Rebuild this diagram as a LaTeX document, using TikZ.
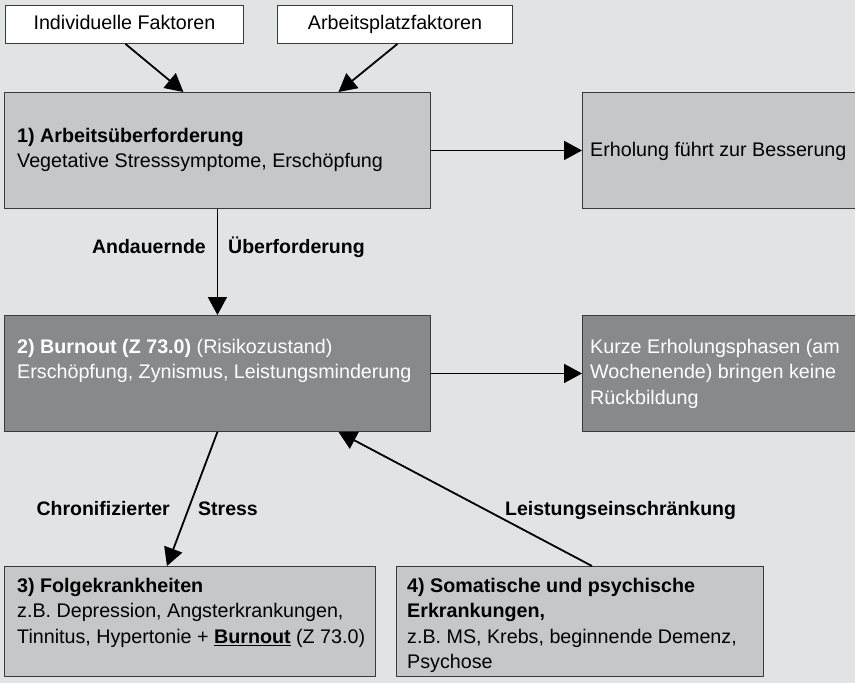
\documentclass[tikz,border=0pt]{standalone}
\usepackage{fontspec}
\setmainfont{Liberation Sans}
\usetikzlibrary{arrows.meta}
\definecolor{bg}{HTML}{E2E3E5}
\definecolor{lightbox}{HTML}{C6C7C9}
\definecolor{darkbox}{HTML}{88898B}
\definecolor{edge}{HTML}{3A3A3A}
% fixed first-line height so the node top sits a known distance above the baseline
\newcommand\topline{\rule{0pt}{16pt}}
\begin{document}
\begin{tikzpicture}[x=1pt,y=-1pt,
  box/.style={draw=edge, line width=0.9pt, rectangle, inner sep=0pt, anchor=north west},
  inbox/.style={box, fill=white, minimum height=38pt, text height=14pt, text depth=4pt,
    font=\fontsize{19.7}{22}\selectfont},
  txt/.style={anchor=north west, align=left, inner sep=0pt,
    font=\fontsize{19.7}{25.5}\selectfont},
  conn/.style={line width=1.8pt, -{Triangle[length=18pt,width=19pt]}},
  lbl/.style={inner sep=0pt, font=\bfseries\fontsize{19.5}{22}\selectfont}]
\fill[bg] (0,0) rectangle (855,683);
\useasboundingbox (0,0) rectangle (855,683);

% input factors
\node[inbox, minimum width=238pt] (ind) at (5,5) {Individuelle Faktoren};
\node[inbox, minimum width=235pt] (arb) at (277,5) {Arbeitsplatzfaktoren};

% stage boxes
\node[box, fill=lightbox, minimum width=426pt, minimum height=116pt] (b1) at (4,92) {};
\node[box, fill=lightbox, minimum width=280pt, minimum height=116pt] (r1) at (582,92) {};
\node[box, fill=darkbox, minimum width=426pt, minimum height=116pt] (b2) at (4,315) {};
\node[box, fill=darkbox, minimum width=280pt, minimum height=116pt] (r2) at (582,315) {};
\node[box, fill=lightbox, minimum width=371pt, minimum height=110pt] (b3) at (4,566) {};
\node[box, fill=lightbox, minimum width=367pt, minimum height=110pt] (b4) at (396,566) {};

% box texts
\node[txt] (t1) at (17,126) {\topline\textbf{1) Arbeitsüberforderung}\\Vegetative Stresssymptome, Erschöpfung};
\node[txt] (tr1) at (590,140) {\topline Erholung führt zur Besserung};
\node[txt, text=white] (t2) at (17,337) {\topline\textbf{2) Burnout (Z 73.0)} (Risikozustand)\\Erschöpfung, Zynismus, Leistungsminderung};
\node[txt, text=white] (tr2) at (590,337) {\topline Kurze Erholungsphasen (am\\Wochenende) bringen keine\\Rückbildung};
\node[txt] (t3) at (17,576) {\topline\textbf{3) Folgekrankheiten}\\z.B. Depression, Angsterkrankungen,\\Tinnitus, Hypertonie + \textbf{\underline{Burnout}} (Z 73.0)};
\node[txt] (t4) at (407,576) {\topline\textbf{4) Somatische und psychische}\\\textbf{Erkrankungen,}\\z.B. MS, Krebs, beginnende Demenz,\\Psychose};

% connectors
\draw[conn] ([xshift=1pt]ind.south) -- ([xshift=-34pt]b1.north);
\draw[conn] ([xshift=2.5pt]arb.south) -- ([xshift=121pt]b1.north);
\draw[conn] (b1.east) -- (b1.east -| r1.west);
\draw[conn] (b1.south) -- (b2.north);
\draw[conn] (b2.east) -- (b2.east -| r2.west);
\draw[conn] (b2.south) -- ([xshift=-23pt]b3.north);
\draw[conn] ([xshift=12pt]b4.north) -- ([xshift=121pt]b2.south);

% connector labels
\node[lbl, anchor=base east] (l1a) at (206,253) {Andauernde};
\node[lbl, anchor=base west] (l1b) at (228,253) {Überforderung};
\node[lbl, anchor=base east] (l2a) at (170,515) {Chronifizierter};
\node[lbl, anchor=base west] (l2b) at (198,515) {Stress};
\node[lbl, anchor=base west] (l3) at (505,515) {Leistungseinschränkung};
\end{tikzpicture}
\end{document}
